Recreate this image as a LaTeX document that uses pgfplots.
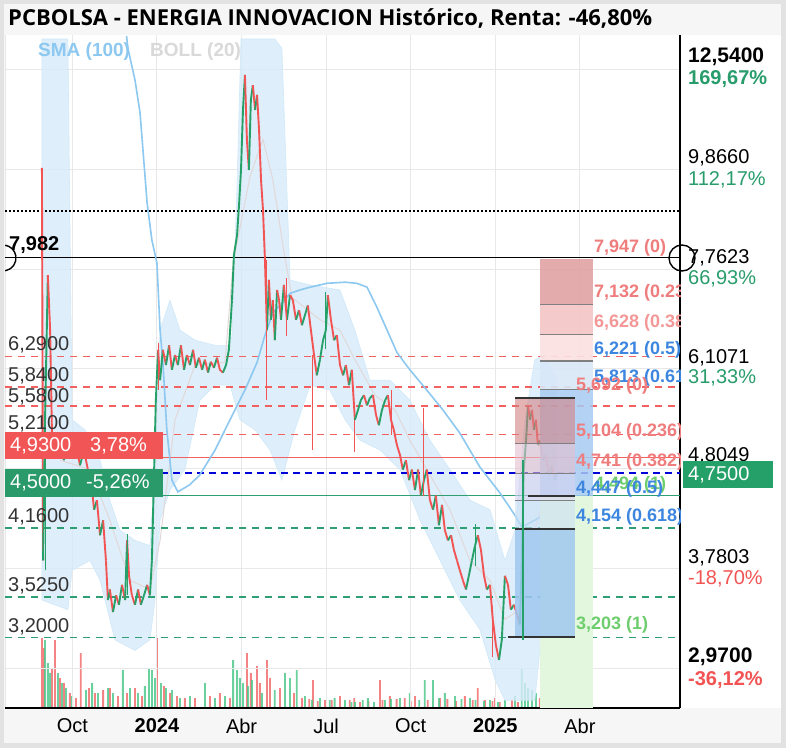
\documentclass[border=0pt]{standalone}
\usepackage{pgfplots}
\pgfplotsset{compat=1.18}
\usepackage{fontspec}
\setmainfont{Liberation Sans}
\newfontfamily\titlefont{Open Sans}
\newcommand\fs[1]{\fontsize{#1}{#1}\selectfont}
\definecolor{candred}{RGB}{242,84,84}
\definecolor{candgreen}{RGB}{38,160,105}
\definecolor{hlred}{RGB}{242,96,96}
\definecolor{hlgreen}{RGB}{46,158,115}
\definecolor{smablue}{RGB}{140,200,240}
\definecolor{bbfill}{RGB}{214,234,250}
\definecolor{bbmid}{RGB}{226,216,216}
\definecolor{volred}{RGB}{243,110,110}
\definecolor{volgreen}{RGB}{80,200,140}
\definecolor{fibred}{RGB}{240,125,125}
\definecolor{fibblue}{RGB}{60,134,224}
\definecolor{fibgreen}{RGB}{110,206,110}
\definecolor{boxred}{RGB}{242,85,85}
\definecolor{boxgreen}{RGB}{42,154,106}
\definecolor{pctgreen}{RGB}{40,157,107}
\definecolor{labgray}{RGB}{51,51,51}
\definecolor{framec}{RGB}{226,226,226}
\definecolor{strip}{RGB}{246,246,246}
\definecolor{gridc}{RGB}{232,232,232}

\pgfplotstableread{
x y c
-4.08 9.90 0
-4.04 3.85 1
-3.97 5.40 1
-3.87 7.65 0
-3.79 6.70 0
-3.72 5.14 0
-3.58 4.96 1
-3.44 5.08 0
-3.30 4.90 1
-3.16 5.14 0
-3.01 4.96 1
-2.87 5.08 0
-2.73 4.84 1
-2.59 5.02 0
-2.45 4.79 0
-2.34 4.67 0
-2.23 4.35 1
-2.13 4.45 0
-2.02 4.09 1
-1.91 4.24 0
-1.81 3.85 0
-1.74 3.50 1
-1.67 3.59 0
-1.56 3.40 1
-1.45 3.54 0
-1.35 3.46 1
-1.24 3.63 0
-1.13 3.50 1
-1.06 4.04 0
-0.99 3.71 0
-0.89 3.54 0
-0.78 3.46 1
-0.67 3.59 0
-0.57 3.46 1
-0.46 3.54 1
-0.35 3.63 0
-0.25 3.54 1
-0.18 3.85 1
-0.11 4.67 1
-0.04 5.66 1
0.04 6.39 0
0.11 5.94 1
0.21 6.39 0
0.32 6.16 1
0.43 6.46 0
0.53 6.09 1
0.64 6.31 0
0.74 6.16 1
0.85 6.46 0
0.96 6.09 1
1.06 6.31 0
1.17 6.16 1
1.28 6.39 0
1.38 6.12 1
1.49 6.27 0
1.60 6.09 1
1.70 6.24 0
1.81 6.05 1
1.91 6.21 0
2.02 6.12 1
2.13 6.27 0
2.23 6.09 0
2.34 6.05 1
2.45 6.16 1
2.55 6.39 1
2.66 7.20 1
2.73 8.03 1
2.84 8.42 1
2.91 9.05 1
2.98 9.85 1
3.05 11.38 1
3.12 12.38 0
3.19 10.59 0
3.26 9.85 1
3.33 11.66 1
3.40 12.08 0
3.48 11.38 1
3.55 11.80 0
3.62 10.85 0
3.69 9.62 0
3.76 8.95 0
3.83 7.93 0
3.90 6.70 1
3.97 7.56 0
4.04 6.87 1
4.11 7.20 0
4.18 6.54 1
4.26 7.38 0
4.33 7.20 0
4.40 6.87 1
4.50 7.47 0
4.61 6.87 1
4.72 7.29 0
4.82 7.20 0
4.93 6.87 1
5.04 7.03 0
5.14 6.78 1
5.25 6.95 1
5.35 7.11 0
5.46 6.70 0
5.57 6.31 0
5.67 6.01 1
5.78 6.24 1
5.89 6.54 1
5.99 6.70 1
6.06 7.29 0
6.17 6.87 0
6.28 6.54 1
6.38 6.62 0
6.49 6.16 0
6.60 6.01 1
6.70 6.16 0
6.81 5.87 1
6.91 6.09 0
7.02 5.40 1
7.13 5.53 1
7.23 5.66 1
7.34 5.73 0
7.45 5.59 1
7.55 5.69 1
7.66 5.73 0
7.77 5.46 0
7.87 5.33 1
7.98 5.53 1
8.09 5.66 1
8.19 5.73 0
8.30 5.40 0
8.40 5.27 0
8.51 5.08 0
8.62 4.96 0
8.72 4.79 1
8.83 4.90 0
8.94 4.67 1
9.04 4.79 0
9.15 4.56 1
9.26 4.79 0
9.36 4.50 1
9.47 4.67 1
9.57 4.79 0
9.68 4.45 0
9.79 4.35 1
9.89 4.50 0
10.00 4.19 1
10.11 4.40 0
10.21 4.14 0
10.32 4.04 1
10.43 4.09 0
10.53 3.95 0
10.64 3.85 0
10.74 3.76 0
10.85 3.67 0
10.96 3.59 1
11.06 3.71 1
11.17 3.85 1
11.28 3.99 1
11.38 4.09 0
11.49 3.95 0
11.60 3.71 0
11.70 3.59 1
11.81 3.63 0
11.91 3.34 0
12.02 3.14 0
12.13 3.03 1
12.23 3.18 1
12.34 3.71 0
12.45 3.63 0
12.55 3.42 1
12.66 3.46 0
12.77 3.38 0
12.87 3.30 1
12.94 3.85 1
13.01 4.79 1
13.09 5.14 1
13.16 5.59 0
13.23 5.40 1
13.30 5.53 0
13.37 5.27 1
13.44 5.40 0
13.51 5.08 1
13.58 5.14 0
13.69 4.90 1
13.79 4.96 0
13.90 4.73 1
14.01 4.84 0
14.11 4.67 1
14.18 4.75 1
}\price

% Bollinger band outline: upper band left to right, then lower band right to left
\pgfplotstableread{
x y
-4.08 13.5
-3.16 13.5
-3.01 5.40
-2.55 5.27
-2.02 4.90
-1.67 4.45
-1.31 4.14
-0.78 4.04
-0.25 3.99
-0.07 4.79
0.11 6.70
0.46 7.20
0.82 6.70
1.35 6.54
2.06 6.46
2.52 6.46
2.66 6.60
2.84 9.50
2.98 13.5
4.18 13.5
4.43 13.2
4.72 7.56
5.43 7.47
6.49 7.38
7.02 6.70
7.55 5.94
8.26 5.94
8.97 5.66
9.68 5.14
10.39 4.79
11.10 4.45
11.81 4.35
12.34 3.85
12.70 4.14
13.05 5.40
13.40 6.24
13.76 6.31
14.18 5.94
14.18 4.04
13.76 3.50
13.40 2.75
12.87 2.75
12.34 2.75
11.99 2.89
11.45 3.26
10.74 3.50
10.04 3.85
9.33 4.24
8.62 4.79
7.91 5.02
7.20 5.14
6.67 5.40
6.13 5.80
5.43 5.87
4.89 5.27
4.43 4.67
4.01 5.02
3.48 5.27
2.94 5.40
2.59 5.87
2.06 5.87
1.52 5.66
0.99 4.79
0.46 4.56
0.11 4.24
-0.07 3.50
-0.25 3.18
-0.78 3.10
-1.49 3.18
-2.02 3.67
-2.38 3.85
-3.01 3.76
-3.16 3.42
-4.08 3.50
}\bband

\pgfplotstableread{
x y
-1.08 13.6
-1.03 13.2
-0.78 12.23
-0.60 11.30
-0.35 9.10
-0.18 8.32
0.00 7.87
0.11 6.70
0.21 6.20
0.35 5.27
0.53 4.67
0.74 4.54
1.17 4.62
1.52 4.73
2.06 5.02
2.59 5.40
3.12 5.80
3.55 6.20
3.83 6.62
4.11 6.98
4.36 7.11
4.72 7.32
5.07 7.38
5.43 7.43
6.03 7.50
6.67 7.52
7.09 7.50
7.45 7.43
7.80 7.08
8.16 6.70
8.51 6.35
8.97 6.09
9.57 5.80
10.14 5.53
10.74 5.23
11.45 4.82
12.16 4.53
12.70 4.29
12.94 4.17
13.58 4.27
14.18 4.37
}\sma

\pgfplotstableread{
x y
-3.44 4.90
-2.38 4.79
-1.67 4.24
-0.96 3.67
-0.25 3.59
0.11 4.04
0.64 5.40
1.35 6.16
2.41 6.20
2.70 7.87
3.30 9.70
3.76 10.60
4.11 9.62
4.47 8.20
4.79 7.25
5.78 6.87
6.49 6.70
7.02 6.24
7.73 5.73
8.44 5.53
8.97 5.14
9.68 4.73
10.39 4.35
11.10 3.85
11.81 3.67
12.34 3.34
12.87 3.42
13.40 4.14
14.18 5.02
}\bbmidt

\begin{document}
\begin{tikzpicture}
\fill[framec] (0,0) rectangle (786pt,748pt);
\fill[strip] (4pt,5pt) rectangle (781pt,744pt);
\fill[white] (5pt,40pt) rectangle (781pt,713pt);
\draw[gridc, line width=1pt] (5pt,40pt) -- (5pt,713pt);

% ---------- volume ----------
\begin{axis}[at={(5pt,40pt)}, anchor=south west, width=675pt, height=673pt,
  scale only axis, hide axis, xmin=-5.39, xmax=18.55, ymin=0, ymax=673,
  ybar, bar width=1.8pt]
\addplot[fill=volred, draw=none, fill opacity=0.85, bar shift=0pt] coordinates {
(-4.08,70) (-4.01,60) (-3.72,40) (-3.62,68) (-3.44,30) (-3.30,25) (-3.09,15) (-2.87,10)
(-2.70,55) (-2.41,20) (-2.20,15) (-1.91,18) (-1.67,20) (-1.38,12) (-1.06,15) (-0.78,20)
(-0.53,12) (0,70) (0.25,22) (0.46,15) (0.71,12) (0.99,10) (1.35,10) (1.88,12) (2.23,15)
(2.59,10) (3.19,55) (3.33,35) (3.55,42) (3.65,25) (3.90,48) (4.01,30) (4.36,20) (4.86,15)
(5.14,10) (5.40,9) (5.53,28) (5.70,7) (5.96,8) (6.20,8) (6.49,12) (6.84,8) (7.00,10) (7.20,6)
(7.50,7) (7.91,28) (8.00,8) (8.26,12) (8.50,9) (8.79,10) (9.00,7) (9.15,12) (9.60,8)
(10.04,10) (10.30,9) (10.60,7) (10.92,12) (11.20,8) (11.38,20) (11.63,8) (11.90,7)
(11.99,10) (12.16,6) (12.59,8) (12.80,6) (13.58,10) (13.87,8) (14.11,6)};
\addplot[fill=volgreen, draw=none, fill opacity=0.85, bar shift=0pt] coordinates {
(-3.97,68) (-3.87,45) (-3.79,35) (-3.51,35) (-3.37,25) (-3.23,20) (-3.01,12) (-2.52,18)
(-2.30,25) (-2.09,15) (-1.74,20) (-1.56,15) (-1.21,38) (-0.96,20) (-0.67,15) (-0.43,22)
(-0.28,40) (-0.18,38) (-0.07,30) (0.14,25) (0.32,20) (0.53,18) (0.82,10) (1.17,12)
(1.70,25) (2.06,10) (2.41,12) (2.70,48) (2.84,38) (2.94,30) (3.05,25) (3.23,22) (3.37,28)
(3.72,15) (4.18,18) (4.54,35) (4.72,30) (4.96,38) (5.25,12) (5.50,8) (5.78,10) (6.13,8)
(6.30,10) (6.67,8) (6.90,6) (7.02,6) (7.30,8) (7.48,10) (7.70,6) (8.09,8) (8.30,9)
(8.62,10) (8.97,15) (9.30,8) (9.50,28) (9.79,28) (10.00,10) (10.21,15) (10.57,12)
(10.80,9) (11.10,10) (11.30,8) (11.60,7) (11.81,8) (12.10,6) (12.34,8) (12.70,12)
(12.94,40) (13.05,25) (13.16,20) (13.30,18) (13.44,15) (13.76,6) (14.01,5)};
\end{axis}

% ---------- price ----------
\begin{axis}[at={(5pt,40pt)}, anchor=south west, width=675pt, height=673pt,
  scale only axis, ymode=log, xmin=-5.39, xmax=18.55, ymin=2.699, ymax=13.63,
  axis x line*=bottom, axis y line*=right,
  axis line style={black, line width=1.6pt},
  xtick={-3,0,3,6,9,12,15},
  xticklabels={Oct,\textbf{2024},Abr,Jul,Oct,\textbf{2025},Abr},
  ytick={2.97,3.7803,4.8049,6.1071,7.7623,9.866,12.54},
  yticklabels={}, minor ytick={},
  grid=major, grid style={gridc, line width=1pt},
  major tick length=0pt,
  xticklabel style={font=\fs{20}, text=black, yshift=-7pt},
  colormap={rg}{color=(candred) color=(candgreen)},
  point meta min=0, point meta max=1]

% Bollinger band
\addplot[fill=bbfill, draw=smablue!40, line width=0.6pt, fill opacity=0.8] table[x=x,y=y] {\bband} --cycle;
\addplot[bbmid, line width=1pt] table[x=x,y=y] {\bbmidt};

% horizontal levels
\addplot[black, line width=1.5pt, dash pattern=on 2pt off 2pt] coordinates {(-5.39,8.925) (18.55,8.925)};
\addplot[black, line width=1.5pt] coordinates {(-5.39,7.982) (18.55,7.982)};
\addplot[hlred, line width=1.5pt, dash pattern=on 7pt off 6pt] coordinates {(-5.39,6.29) (18.55,6.29)};
\addplot[hlred, line width=1.5pt, dash pattern=on 7pt off 6pt] coordinates {(-5.39,5.84) (18.55,5.84)};
\addplot[hlred, line width=1.5pt, dash pattern=on 7pt off 6pt] coordinates {(-5.39,5.58) (18.55,5.58)};
\addplot[hlred, line width=1.5pt, dash pattern=on 7pt off 6pt] coordinates {(-5.39,5.21) (18.55,5.21)};
\addplot[hlred, line width=1.5pt] coordinates {(-5.39,4.93) (18.55,4.93)};
\addplot[blue!85!black, line width=1.8pt, dash pattern=on 7pt off 5pt] coordinates {(-5.39,4.75) (18.55,4.75)};
\addplot[hlgreen, line width=1.5pt] coordinates {(-5.39,4.50) (18.55,4.50)};
\addplot[hlgreen, line width=1.5pt, dash pattern=on 7pt off 6pt] coordinates {(-5.39,4.16) (18.55,4.16)};
\addplot[hlgreen, line width=1.5pt, dash pattern=on 7pt off 6pt] coordinates {(-5.39,3.525) (18.55,3.525)};
\addplot[hlgreen, line width=1.5pt, dash pattern=on 7pt off 6pt] coordinates {(-5.39,3.20) (18.55,3.20)};

% SMA 100
\addplot[smablue, line width=1.6pt] table[x=x,y=y] {\sma};

% price path and wicks
\addplot[mesh, shader=flat corner, line width=1.9pt, point meta=explicit] table[x=x,y=y,meta=c] {\price};
\addplot[candred, line width=1pt, unbounded coords=jump] coordinates {
(3.90,7.93) (3.90,5.66) (3.90,nan) (5.53,6.31) (5.53,5.02) (5.53,nan)
(7.02,5.40) (7.02,5.00) (7.02,nan) (9.47,5.56) (9.47,4.50) (9.47,nan)
(0.04,6.50) (0.04,5.80) (0.04,nan) (4.61,7.60) (4.61,6.60) (4.61,nan)
(8.30,5.80) (8.30,5.20) (8.30,nan) (11.91,3.45) (11.91,3.05)};
\addplot[candgreen, line width=1pt, unbounded coords=jump] coordinates {
(-3.97,3.76) (-3.97,5.40) (-3.97,nan) (-1.06,3.54) (-1.06,4.10) (-1.06,nan)
(5.99,6.40) (5.99,7.35) (5.99,nan) (11.28,3.80) (11.28,4.20)};

% Fibonacci (right)
\addplot[fill={rgb,255:red,227;green,247;blue,223}, draw=none] coordinates {(13.58,4.494) (15.46,4.494) (15.46,2.70) (13.58,2.70)} --cycle;
\addplot[fill={rgb,255:red,224;green,162;blue,162}, draw=none, fill opacity=0.9] coordinates {(13.58,7.947) (15.46,7.947) (15.46,7.132) (13.58,7.132)} --cycle;
\addplot[fill={rgb,255:red,244;green,197;blue,197}, draw=none, fill opacity=0.9] coordinates {(13.58,7.132) (15.46,7.132) (15.46,6.628) (13.58,6.628)} --cycle;
\addplot[fill={rgb,255:red,251;green,225;blue,225}, draw=none, fill opacity=0.9] coordinates {(13.58,6.628) (15.46,6.628) (15.46,6.221) (13.58,6.221)} --cycle;
\addplot[fill={rgb,255:red,217;green,232;blue,248}, draw=none, fill opacity=0.9] coordinates {(13.58,6.221) (15.46,6.221) (15.46,5.813) (13.58,5.813)} --cycle;
\addplot[fill={rgb,255:red,168;green,203;blue,241}, draw=none, fill opacity=0.85] coordinates {(13.58,5.813) (15.46,5.813) (15.46,4.494) (13.58,4.494)} --cycle;
% Fibonacci (left)
\addplot[fill={rgb,255:red,211;green,130;blue,132}, draw=none, fill opacity=0.6] coordinates {(12.70,5.692) (14.82,5.692) (14.82,5.104) (12.70,5.104)} --cycle;
\addplot[fill={rgb,255:red,229;green,190;blue,205}, draw=none, fill opacity=0.6] coordinates {(12.70,5.104) (14.82,5.104) (14.82,4.741) (12.70,4.741)} --cycle;
\addplot[fill={rgb,255:red,214;green,210;blue,240}, draw=none, fill opacity=0.6] coordinates {(12.70,4.741) (14.82,4.741) (14.82,4.447) (12.70,4.447)} --cycle;
\addplot[fill={rgb,255:red,205;green,225;blue,246}, draw=none, fill opacity=0.6] coordinates {(12.70,4.447) (14.82,4.447) (14.82,4.154) (12.70,4.154)} --cycle;
\addplot[fill={rgb,255:red,160;green,200;blue,240}, draw=none, fill opacity=0.85] coordinates {(12.70,4.154) (14.82,4.154) (14.82,3.203) (12.70,3.203)} --cycle;
% fib level lines
\addplot[gray, line width=1.2pt] coordinates {(13.58,7.132) (15.46,7.132)};
\addplot[gray, line width=1.2pt] coordinates {(13.58,6.628) (15.46,6.628)};
\addplot[gray, line width=1.2pt] coordinates {(13.58,6.221) (15.46,6.221)};
\addplot[gray, line width=1.2pt] coordinates {(13.58,5.813) (15.46,5.813)};
\addplot[gray, line width=1.2pt] coordinates {(12.70,5.104) (14.82,5.104)};
\addplot[gray, line width=1.2pt] coordinates {(12.70,4.741) (14.82,4.741)};
\addplot[gray, line width=1.2pt] coordinates {(12.70,4.447) (14.82,4.447)};
\addplot[black!80, line width=1.6pt] coordinates {(12.70,5.692) (14.82,5.692)};
\addplot[black!80, line width=1.6pt] coordinates {(12.70,4.154) (14.82,4.154)};
\addplot[black!80, line width=1.6pt] coordinates {(12.45,3.203) (14.82,3.203)};
\addplot[black!80, line width=1.6pt] coordinates {(13.16,4.494) (14.82,4.494)};
\addplot[candgreen, line width=1.4pt] coordinates {(12.98,3.18) (12.98,4.90)};

% fib labels
\begin{scope}[every node/.style={anchor=south west, inner sep=1pt, yshift=2pt, font=\bfseries\fs{18}}]
\node[text=fibred] at (axis cs:15.46,7.947) {7,947 (0)};
\node[text=fibred] at (axis cs:15.46,7.132) {7,132 (0.236)};
\node[text=fibred!80] at (axis cs:15.46,6.628) {6,628 (0.382)};
\node[text=fibblue] at (axis cs:15.46,6.221) {6,221 (0.5)};
\node[text=fibblue] at (axis cs:15.46,5.813) {5,813 (0.618)};
\node[text=fibred] at (axis cs:14.82,5.692) {5,692 (0)};
\node[text=fibred] at (axis cs:14.82,5.104) {5,104 (0.236)};
\node[text=fibred] at (axis cs:14.82,4.741) {4,741 (0.382)};
\node[text=fibgreen] at (axis cs:15.46,4.494) {4,494 (1)};
\node[text=fibblue] at (axis cs:14.82,4.447) {4,447 (0.5)};
\node[text=fibblue] at (axis cs:14.82,4.154) {4,154 (0.618)};
\node[text=fibgreen] at (axis cs:14.82,3.203) {3,203 (1)};
\end{scope}
\end{axis}

% ---------- texts outside ----------
\draw[black, line width=1.4pt] (682pt,490pt) circle[radius=13pt];
\draw[black, line width=1.4pt] (3pt,490pt) ++(-80:13pt) arc[start angle=-80, end angle=80, radius=13pt];
\node[anchor=west, inner sep=0pt, font=\bfseries\fs{20}] at (9pt,503pt) {7,982};

\begin{scope}[every node/.style={anchor=west, inner sep=0pt, font=\fs{20}, text=labgray}]
\node at (8pt,403pt) {6,2900};
\node at (8pt,372pt) {5,8400};
\node at (8pt,351pt) {5,5800};
\node at (8pt,324pt) {5,2100};
\node at (8pt,231pt) {4,1600};
\node at (8pt,162pt) {3,5250};
\node at (8pt,121pt) {3,2000};
\end{scope}
\fill[boxred] (5pt,289pt) rectangle (163pt,316pt);
\fill[boxgreen] (5pt,251pt) rectangle (163pt,279pt);
\node[anchor=west, inner sep=0pt, font=\fs{20}, text=white] at (10pt,302.5pt) {4,9300};
\node[anchor=west, inner sep=0pt, font=\fs{20}, text=white] at (90pt,302.5pt) {3,78\%};
\node[anchor=west, inner sep=0pt, font=\fs{20}, text=white] at (10pt,265pt) {4,5000};
\node[anchor=west, inner sep=0pt, font=\fs{20}, text=white] at (86pt,265pt) {-5,26\%};

% right axis labels
\begin{scope}[every node/.style={anchor=west, inner sep=0pt, font=\fs{20}}]
\node[font=\bfseries\fs{21}] at (688pt,691pt) {12,5400};
\node[font=\bfseries\fs{20}, text=pctgreen] at (688pt,669pt) {169,67\%};
\node at (688pt,590pt) {9,8660};
\node[text=pctgreen] at (688pt,568pt) {112,17\%};
\node at (688pt,490pt) {7,7623};
\node[text=pctgreen] at (688pt,469pt) {66,93\%};
\node at (688pt,390pt) {6,1071};
\node[text=pctgreen] at (688pt,370pt) {31,33\%};
\node at (688pt,292pt) {4,8049};
\node at (688pt,190pt) {3,7803};
\node[text=candred] at (688pt,169pt) {-18,70\%};
\node[font=\bfseries\fs{21}] at (688pt,91pt) {2,9700};
\node[font=\bfseries\fs{20}, text=candred] at (688pt,68pt) {-36,12\%};
\end{scope}
\fill[candgreen] (683pt,260pt) rectangle (773pt,287pt);
\node[anchor=west, inner sep=0pt, font=\fs{20}, text=white] at (688pt,273.5pt) {4,7500};

% title and legend
\node[anchor=west, inner sep=0pt, font=\titlefont\bfseries\fs{22}] at (8pt,730pt) {PCBOLSA - ENERGIA INNOVACION Histórico, Renta: -46,80\%};
\node[anchor=west, inner sep=0pt, font=\bfseries\fs{19}, text=smablue] at (38pt,696pt) {SMA (100)};
\node[anchor=west, inner sep=0pt, font=\bfseries\fs{19}, text=black!15] at (150pt,696pt) {BOLL (20)};
\end{tikzpicture}
\end{document}
